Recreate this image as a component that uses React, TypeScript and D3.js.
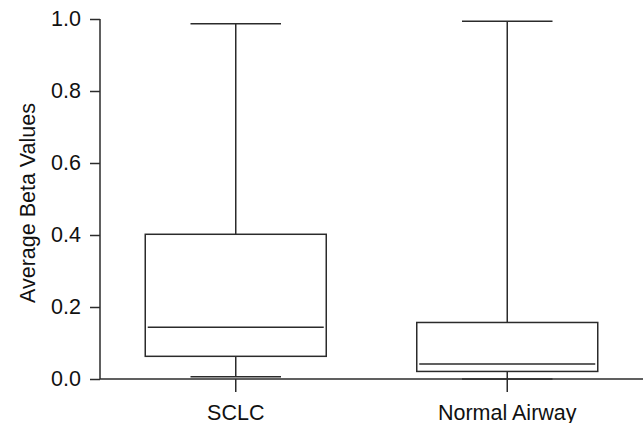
import { useEffect, useRef } from "react";
import * as d3 from "d3";

// five-number summaries
const categories = ["SCLC", "Normal Airway"];
const mins = [0.006, 0.0];
const q1s = [0.063, 0.021];
const medians = [0.144, 0.042];
const q3s = [0.402, 0.157];
const maxes = [0.987, 0.994];
const yTicks = [0, 0.2, 0.4, 0.6, 0.8, 1.0];

const W = 643;
const H = 423;
const FONT = "'Liberation Sans', Arial, sans-serif";
const FS = 21.5;
const INK = "#2b2b2b";

export default function App(): JSX.Element {
  const svgRef = useRef<SVGSVGElement | null>(null);

  useEffect(() => {
    if (!svgRef.current) return;
    const svg = d3.select(svgRef.current);
    svg.selectAll("*").remove();

    const x = d3.scaleBand<string>().domain(categories).range([100, W]).padding(0);
    const y = d3.scaleLinear().domain([0, 1]).range([379, 19]);
    const boxW = x.bandwidth() * (2 / 3);
    const capW = x.bandwidth() / 3;

    const rows = categories.map((c, i) => ({
      c,
      min: mins[i],
      q1: q1s[i],
      med: medians[i],
      q3: q3s[i],
      max: maxes[i],
    }));

    // y axis
    const yAxis = svg
      .append("g")
      .attr("transform", `translate(${x.range()[0]},0)`)
      .call(
        d3
          .axisLeft(y)
          .tickValues(yTicks)
          .tickFormat(d3.format(".1f"))
          .tickSize(10)
          .tickPadding(9),
      );
    yAxis.select(".domain").attr("stroke", INK).attr("stroke-width", 1.5)
      .attr("d", `M0,${y(0)}V${y(1)}`);
    yAxis.selectAll(".tick line").attr("stroke", INK).attr("stroke-width", 1.5);
    yAxis
      .selectAll(".tick text")
      .attr("font-family", FONT)
      .attr("font-size", FS)
      .attr("fill", "#111");

    // x axis
    const xAxis = svg
      .append("g")
      .attr("transform", `translate(0,${y(0)})`)
      .call(d3.axisBottom(x).tickSize(13).tickPadding(13));
    xAxis.select(".domain").attr("stroke", INK).attr("stroke-width", 1.5)
      .attr("d", `M${x.range()[0]},0H${W}`);
    xAxis.selectAll(".tick line").attr("stroke", INK).attr("stroke-width", 1.5);
    xAxis
      .selectAll(".tick text")
      .attr("font-family", FONT)
      .attr("font-size", FS)
      .attr("fill", "#111");

    svg
      .append("text")
      .attr("transform", `translate(27,${(y(0) + y(1)) / 2 + 4}) rotate(-90)`)
      .attr("text-anchor", "middle")
      .attr("dy", "0.35em")
      .attr("font-family", FONT)
      .attr("font-size", FS)
      .attr("fill", "#111")
      .text("Average Beta Values");

    const g = svg
      .append("g")
      .attr("fill", "none")
      .attr("stroke", INK)
      .attr("stroke-width", 1.5)
      .selectAll("g")
      .data(rows)
      .join("g")
      .attr("transform", (d) => `translate(${(x(d.c) ?? 0) + x.bandwidth() / 2},0)`);

    // whiskers
    g.append("line")
      .attr("y1", (d) => y(d.q3))
      .attr("y2", (d) => y(d.max));
    g.append("line")
      .attr("y1", (d) => y(d.q1))
      .attr("y2", (d) => y(d.min));
    // caps
    g.append("line")
      .attr("x1", -capW / 2)
      .attr("x2", capW / 2)
      .attr("y1", (d) => y(d.max))
      .attr("y2", (d) => y(d.max));
    g.append("line")
      .attr("x1", -capW / 2)
      .attr("x2", capW / 2)
      .attr("y1", (d) => y(d.min))
      .attr("y2", (d) => y(d.min));
    // box
    g.append("rect")
      .attr("x", -boxW / 2)
      .attr("width", boxW)
      .attr("y", (d) => y(d.q3))
      .attr("height", (d) => y(d.q1) - y(d.q3))
      .attr("fill", "#fff");
    // median, inset a little from the box sides
    g.append("line")
      .attr("x1", -boxW / 2 + 2.5)
      .attr("x2", boxW / 2 - 2.5)
      .attr("y1", (d) => y(d.med))
      .attr("y2", (d) => y(d.med));
  }, []);

  return (
    <svg
      ref={svgRef}
      width={W}
      height={H}
      style={{ position: "fixed", left: 0, top: 0, background: "#fff" }}
    />
  );
}
